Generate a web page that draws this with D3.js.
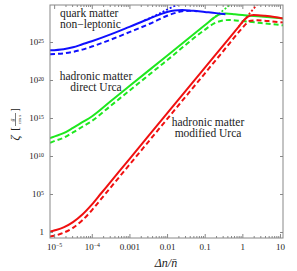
<!DOCTYPE html>
<html><head><meta charset="utf-8">
<script src="https://cdn.jsdelivr.net/npm/d3@7"></script>
<style>
html,body{margin:0;padding:0;background:#fff;}
text{font-family:"Liberation Serif","Times New Roman",serif;fill:#222;}
</style></head>
<body>
<svg id="chart" width="297" height="271"></svg>
<script>
// ---- data: [log10(Δn/n̄), log10(ζ)] ----
const blueSolid = [[-5.11,23.9],[-4.75,24.05],[-4.5,24.3],[-4.25,24.7],[-4,25.1],[-3.5,26.0],[-3,27.0],[-2.46,28.1],[-2.2,28.6],[-2.0,28.95],[-1.8,29.15],[-1.6,29.2],[-1.3,29.1],[-1.0,28.95],[-0.7,28.8],[-0.45,28.65]];
const blueDashed = [[-5.11,23.4],[-4.75,23.5],[-4.5,23.7],[-4.25,24.0],[-4,24.4],[-3.5,25.3],[-3,26.3],[-2.46,27.4],[-2.0,28.45],[-1.8,28.8],[-1.6,29.05],[-1.4,29.1],[-1.2,29.05]];
const blueDotted = [[-2.6,27.85],[-2.2,28.75],[-1.93,29.45],[-1.65,30.05]];
const greenSolid = [[-5.11,12.35],[-5.0,12.55],[-4.75,13.0],[-4.5,13.7],[-4.25,14.45],[-4,15.2],[-3.5,17.2],[-3,19.2],[-2,23.2],[-1.0,27.2],[-0.75,28.2],[-0.6,28.65],[-0.45,28.75],[-0.2,28.65],[0,28.55],[0.5,28.35],[1.08,28.1]];
const greenDashed = [[-5.11,11.75],[-5.0,11.95],[-4.75,12.4],[-4.5,13.1],[-4.25,13.85],[-4,14.6],[-3.5,16.6],[-3,18.6],[-2,22.6],[-1.0,26.6],[-0.75,27.45],[-0.55,27.8],[-0.35,27.9],[0,27.75],[0.5,27.5],[1.08,27.2]];
const greenDotted = [[-0.8,28.0],[-0.6,28.8],[-0.3,30.0]];
const redSolid = [[-5.11,0.05],[-5.0,0.2],[-4.75,0.6],[-4.5,1.3],[-4.25,2.3],[-4,3.6],[-3.75,5.1],[-3.5,6.6],[-3,9.6],[-2,15.6],[-1,21.6],[-0.5,24.6],[-0.1,27.0],[0.05,27.9],[0.15,28.35],[0.3,28.55],[0.6,28.45],[0.85,28.3],[1.08,28.1]];
const redDashed = [[-5.11,-0.6],[-5.0,-0.5],[-4.75,-0.1],[-4.5,0.55],[-4.25,1.55],[-4,2.85],[-3.75,4.35],[-3.5,5.85],[-3,8.85],[-2,14.85],[-1,20.85],[-0.5,23.85],[0,26.85],[0.12,27.5],[0.22,27.8],[0.4,27.85],[0.7,27.75],[1.08,27.55]];
const redDotted = [[-0.1,27.0],[0.1,28.2],[0.42,30.1]];

const xTickValues = [1e-5,1e-4,1e-3,1e-2,1e-1,1,10];
const xTickLabels = [["10","−5"],["10","−4"],["0.001"],["0.01"],["0.1"],["1"],["10"]];
const yTickValues = [1,1e5,1e10,1e15,1e20,1e25];
const yTickLabels = [["1"],["10","5"],["10","10"],["10","15"],["10","20"],["10","25"]];

const blue = "#1010ff", green = "#1ee81e", red = "#f01010";

const svg = d3.select("#chart");
const L = 50, R = 283, T = 5, B = 238;
const x = d3.scaleLog().domain([Math.pow(10,-5.11), Math.pow(10,1.08)]).range([L,R]);
const y = d3.scaleLog().domain([Math.pow(10,-0.79), Math.pow(10,29.87)]).range([B,T]);

svg.append("defs").append("clipPath").attr("id","clip")
  .append("rect").attr("x",L).attr("y",T).attr("width",R-L).attr("height",B-T);

const line = d3.line()
  .x(d => x(Math.pow(10,d[0])))
  .y(d => y(Math.pow(10,d[1])))
  .curve(d3.curveMonotoneX);

const g = svg.append("g").attr("clip-path","url(#clip)");
function draw(data, color, dash, w){
  g.append("path").datum(data).attr("d",line)
    .attr("fill","none").attr("stroke",color).attr("stroke-width",w)
    .attr("stroke-dasharray",dash);
}
draw(blueDotted, blue, "2,2", 1.8);
draw(greenDotted, green, "2,2", 1.8);
draw(redDotted, red, "2,2", 1.8);
draw(blueDashed, blue, "5,3", 2);
draw(greenDashed, green, "5,3", 2);
draw(redDashed, red, "5,3", 2);
draw(greenSolid, green, null, 2);
draw(blueSolid, blue, null, 2);
draw(redSolid, red, null, 2);

// frame
const axisColor = "#888";
svg.append("rect").attr("x",L).attr("y",T).attr("width",R-L).attr("height",B-T)
  .attr("fill","none").attr("stroke",axisColor).attr("stroke-width",1);

// minor x ticks
const minor = [];
for (let e=-5; e<=0; e++) for (let m=2; m<=9; m++) minor.push(m*Math.pow(10,e));

function styleAxis(sel){
  sel.select(".domain").remove();
  sel.selectAll("line").attr("stroke",axisColor);
}
svg.append("g").attr("transform",`translate(0,${B})`)
  .call(d3.axisBottom(x).tickValues(minor).tickSize(-2).tickFormat(""))
  .call(styleAxis);
svg.append("g").attr("transform",`translate(0,${T})`)
  .call(d3.axisTop(x).tickValues(minor).tickSize(-2).tickFormat(""))
  .call(styleAxis);
svg.append("g").attr("transform",`translate(0,${T})`)
  .call(d3.axisTop(x).tickValues(xTickValues).tickSize(-4).tickFormat(""))
  .call(styleAxis);
const xa = svg.append("g").attr("transform",`translate(0,${B})`)
  .call(d3.axisBottom(x).tickValues(xTickValues).tickSize(-4).tickPadding(5))
  .call(styleAxis);
function supLabel(sel, labels, sz){
  sel.selectAll("text").each(function(d,i){
    const t = d3.select(this).text(null).attr("font-size",sz).attr("fill","#222")
      .attr("font-family","Liberation Serif, serif");
    const lab = labels[i];
    t.append("tspan").text(lab[0]);
    if (lab[1]) t.append("tspan").attr("dy","-0.45em").attr("font-size",sz*0.65).text(lab[1]);
  });
}
xa.call(s => supLabel(s, xTickLabels, 9));
xa.selectAll("text").attr("dy","0.75em");

const ya = svg.append("g").attr("transform",`translate(${L},0)`)
  .call(d3.axisLeft(y).tickValues(yTickValues).tickSize(-3).tickPadding(6))
  .call(styleAxis);
ya.call(s => supLabel(s, yTickLabels, 9));
svg.append("g").attr("transform",`translate(${R},0)`)
  .call(d3.axisRight(y).tickValues(yTickValues).tickSize(-3).tickFormat(""))
  .call(styleAxis);

// annotations
function note(lines, cx, y0, anchor){
  const t = svg.append("text").attr("font-size",11.5).attr("text-anchor",anchor);
  lines.forEach((s,i)=> t.append("tspan").attr("x",cx).attr("y",y0+i*11).text(s));
}
note(["quark matter","non−leptonic"], 60, 17, "start");
note(["hadronic matter","direct Urca"], 96, 80, "middle");
note(["hadronic matter","modified Urca"], 208, 126, "middle");

// x label
svg.append("text").attr("x",166).attr("y",267).attr("text-anchor","middle")
  .attr("font-size",12).attr("font-style","italic").text("Δn/n̄");

// y label
const yl = svg.append("g").attr("transform","translate(15,126) rotate(-90)");
yl.append("text").attr("x",-12).attr("y",4).attr("font-size",13).attr("font-style","italic").attr("text-anchor","middle").text("ζ");
yl.append("text").attr("x",-3).attr("y",3).attr("font-size",11).attr("text-anchor","middle").text("[");
yl.append("text").attr("x",6).attr("y",-1).attr("font-size",6).attr("font-style","italic").attr("text-anchor","middle").text("g");
yl.append("line").attr("x1",0).attr("x2",13).attr("y1",0.5).attr("y2",0.5).attr("stroke","#222").attr("stroke-width",0.6);
yl.append("text").attr("x",6.5).attr("y",6).attr("font-size",5).attr("text-anchor","middle").text("cm s");
yl.append("text").attr("x",16).attr("y",3).attr("font-size",11).attr("text-anchor","middle").text("]");
</script>
</body></html>
